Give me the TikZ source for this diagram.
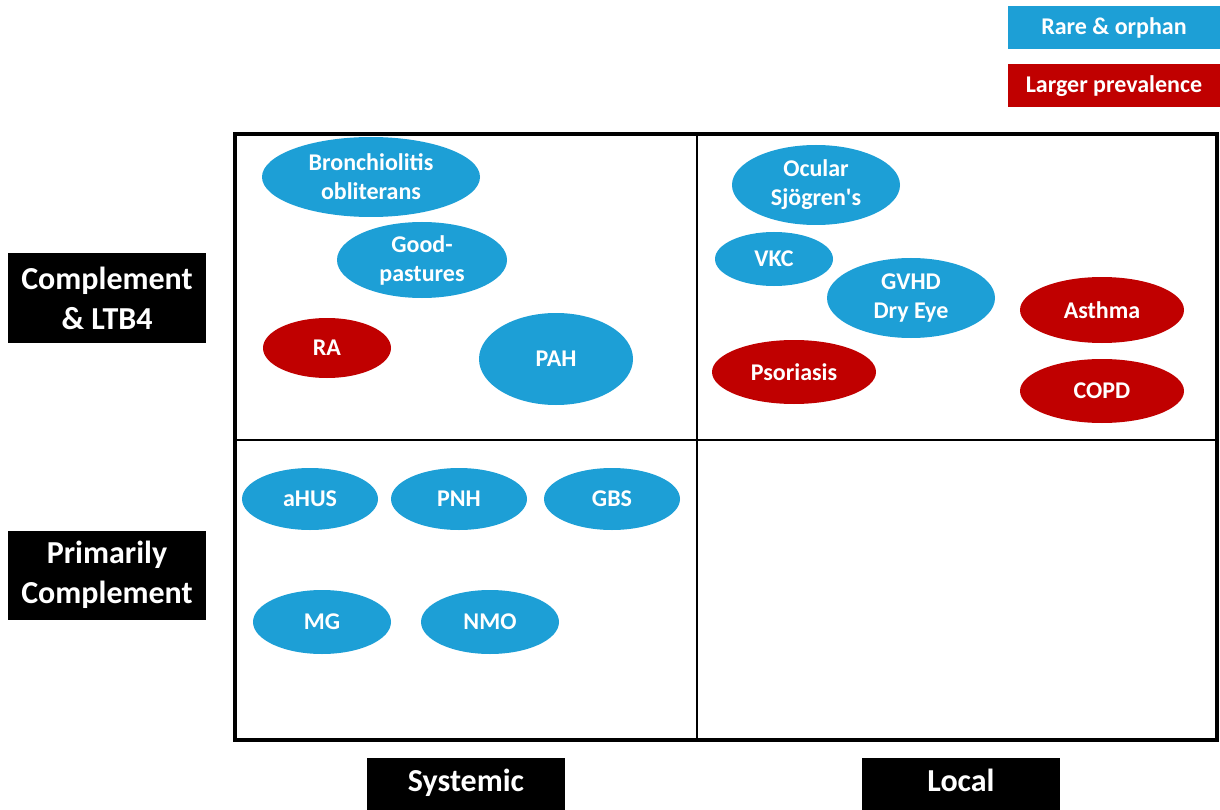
\documentclass[tikz,border=0pt]{standalone}
\usepackage{fontspec}
\setmainfont{Carlito}
\usepackage{tikz}
\usetikzlibrary{shapes.geometric}
\definecolor{rareblue}{RGB}{29,159,214}
\definecolor{bigred}{RGB}{192,0,0}

\begin{document}
\begin{tikzpicture}[x=1pt, y=-1pt,
            every node/.style = {align=center, text=white, font=\bfseries},
            oval/.style = {shape=ellipse, inner sep=0pt,
                           font=\fontsize{24}{29}\selectfont\bfseries},
            rareoval/.style = {oval, fill=rareblue},
            commonoval/.style = {oval, fill=bigred},
            axislabel/.style = {fill=black, inner sep=0pt, minimum width=198,
                                font=\fontsize{32}{40}\selectfont\bfseries},
            keybox/.style = {inner sep=0pt, minimum width=212, minimum height=43,
                             font=\fontsize{24}{28}\selectfont\bfseries}]
    \useasboundingbox (0,0) rectangle (1220,810);
    % legend
    \node[keybox, fill=rareblue] (keyrare) at (1114,28) {Rare \& orphan};
    \node[keybox, fill=bigred] (keycommon) at (1114,86) {Larger prevalence};
    % quadrant frame
    \draw[line width=2pt] (697,134) -- (697,740);
    \draw[line width=2pt] (235,440) -- (1217,440);
    \draw[line width=4pt] (235,134) rectangle (1217,740);
    % axis labels
    \node[axislabel, minimum height=89] (ltb) at (107,298) {Complement\\\& LTB4};
    \node[axislabel, minimum height=89] (prim) at (107,575) {Primarily\\Complement};
    \node[axislabel, minimum height=53, text height=22, text depth=7] (sys) at (466,784) {Systemic};
    \node[axislabel, minimum height=53, text height=22, text depth=7] (loc) at (961,784) {Local};
    % systemic, complement & LTB4
    \node[rareoval, minimum width=218, minimum height=80] (bo) at (371,177) {Bronchiolitis\\obliterans};
    \node[rareoval, minimum width=170, minimum height=76] (good) at (422,260) {Good-\\pastures};
    \node[commonoval, minimum width=128, minimum height=60] (ra) at (327,348) {RA};
    \node[rareoval, minimum width=154, minimum height=92] (pah) at (556,359) {PAH};
    % local, complement & LTB4
    \node[rareoval, minimum width=168, minimum height=80] (sjo) at (816,185) {Ocular\\Sjögren\textquotesingle s};
    \node[rareoval, minimum width=118, minimum height=54] (vkc) at (774,259) {VKC};
    \node[rareoval, minimum width=168, minimum height=80] (gvhd) at (911,298) {GVHD\\Dry Eye};
    \node[commonoval, minimum width=164, minimum height=66] (asthma) at (1102,310) {Asthma};
    \node[commonoval, minimum width=164, minimum height=64] (pso) at (794,372) {Psoriasis};
    \node[commonoval, minimum width=164, minimum height=64] (copd) at (1102,391) {COPD};
    % systemic, primarily complement
    \node[rareoval, minimum width=136, minimum height=62] (ahus) at (310,499) {aHUS};
    \node[rareoval, minimum width=136, minimum height=62] (pnh) at (459,499) {PNH};
    \node[rareoval, minimum width=136, minimum height=62] (gbs) at (612,499) {GBS};
    \node[rareoval, minimum width=138, minimum height=64] (mg) at (322,622) {MG};
    \node[rareoval, minimum width=138, minimum height=64] (nmo) at (490,622) {NMO};
\end{tikzpicture}
\end{document}
